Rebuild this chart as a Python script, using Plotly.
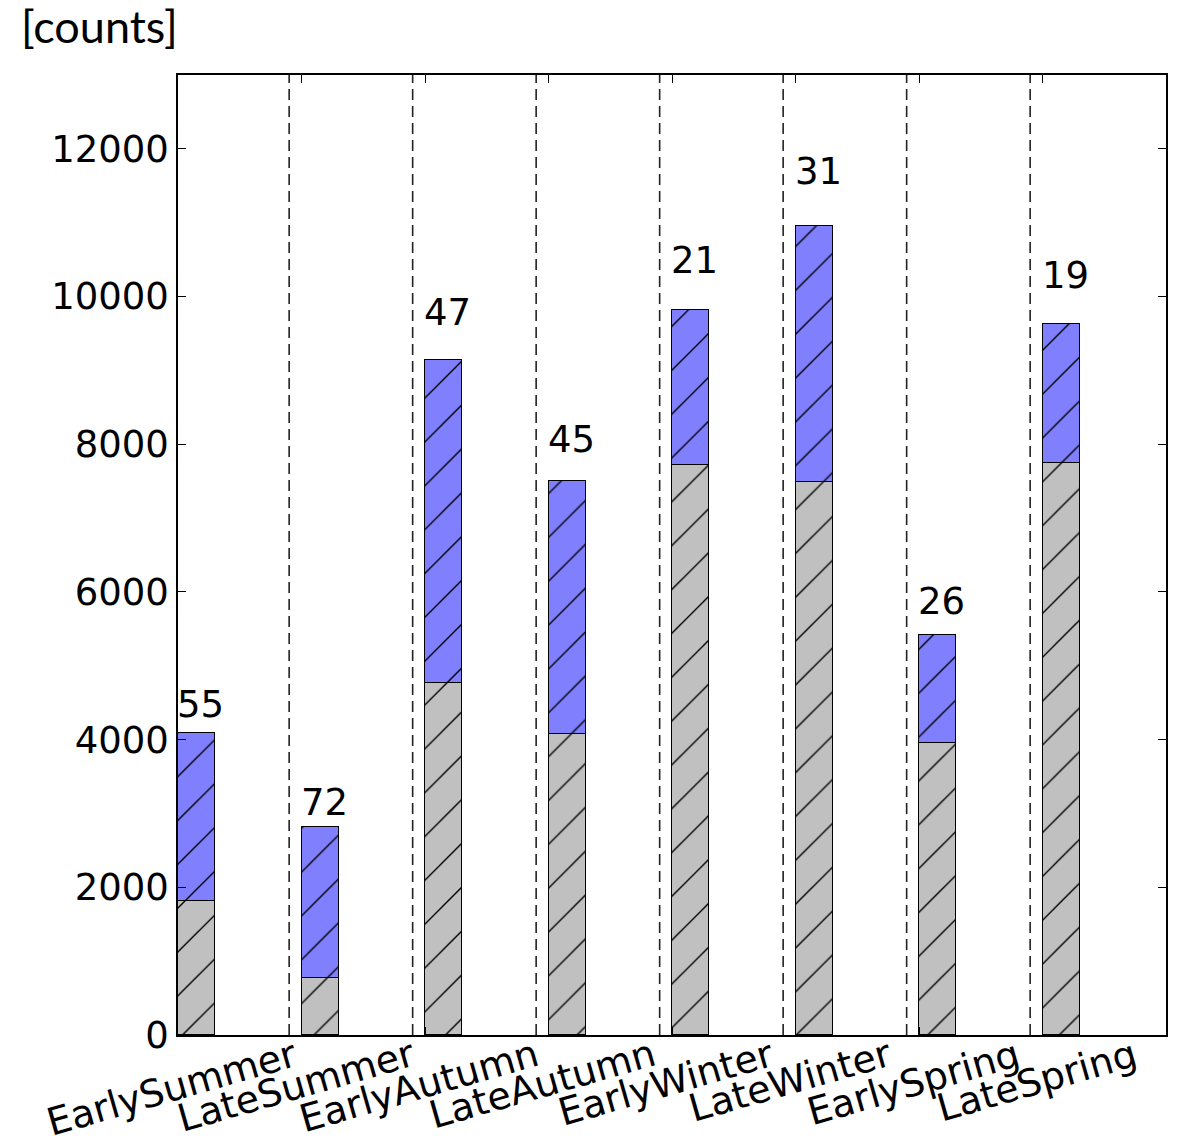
import plotly.graph_objects as go

# Seasonal counts: grey base segment plus blue stacked segment per period
categories = ["EarlySummer", "LateSummer", "EarlyAutumn", "LateAutumn",
              "EarlyWinter", "LateWinter", "EarlySpring", "LateSpring"]
base_counts = [1810, 770, 4765, 4080, 7720, 7495, 3960, 7750]
top_counts = [2275, 2050, 4375, 3420, 2100, 3465, 1460, 1875]
pct_labels = ["55", "72", "47", "45", "21", "31", "26", "19"]
y_ticks = [0, 2000, 4000, 6000, 8000, 10000, 12000]

positions = list(range(len(categories)))
totals = [b + t for b, t in zip(base_counts, top_counts)]

TICK_FONT = dict(family="DejaVu Sans", size=37, color="black")
CAT_FONT = dict(family="DejaVu Sans", size=38, color="black")
BAR_W = 0.3

fig = go.Figure()

fig.add_trace(go.Bar(
    x=positions, y=base_counts, width=BAR_W, offset=0,
    marker=dict(color="#c0c0c0", line=dict(color="black", width=1.2),
                pattern=dict(shape="/", fgcolor="black", bgcolor="#c0c0c0",
                             size=31, solidity=0.045, fillmode="replace")),
    showlegend=False, hoverinfo="skip",
))
fig.add_trace(go.Bar(
    x=positions, y=top_counts, width=BAR_W, offset=0,
    marker=dict(color="#8080ff", line=dict(color="black", width=1.2),
                pattern=dict(shape="/", fgcolor="black", bgcolor="#8080ff",
                             size=31, solidity=0.045, fillmode="replace")),
    showlegend=False, hoverinfo="skip",
))

# Dashed separators between periods
for p in positions[:-1]:
    fig.add_shape(type="line", xref="x", yref="y", x0=p + 0.9, x1=p + 0.9,
                  y0=0, y1=13000, layer="below",
                  line=dict(color="#222222", width=1.6, dash="11px,6px"))

annotations = []
# Percentage labels above each stack
for p, tot, lab in zip(positions, totals, pct_labels):
    annotations.append(dict(
        x=p, y=tot * 1.05, xref="x", yref="y", text=lab, showarrow=False,
        xanchor="left", yanchor="bottom", borderpad=0, xshift=-2, yshift=-9,
        font=TICK_FONT,
    ))
# Rotated category labels
for p, name in zip(positions, categories):
    annotations.append(dict(
        x=p, y=0, xref="x", yref="paper", text=name, showarrow=False,
        xanchor="center", yanchor="top", textangle=-16, borderpad=0,
        xshift=-6, yshift=5, font=CAT_FONT,
    ))
# Unit label above the plot area
annotations.append(dict(
    x=-0.161, y=1.0, xref="paper", yref="paper", text="[counts]",
    showarrow=False, xanchor="left", yanchor="bottom", yshift=20,
    font=dict(family="Lato", size=45, color="black"),
))

fig.update_layout(
    width=1179, height=1143,
    margin=dict(l=178, r=13, t=75, b=108),
    paper_bgcolor="white", plot_bgcolor="white",
    barmode="stack", bargap=0,
    annotations=annotations,
)

fig.update_xaxes(
    range=[0, 8], tickvals=positions, showticklabels=False,
    ticks="inside", ticklen=8, tickcolor="black", tickwidth=1,
    showline=True, linecolor="black", linewidth=1.5, mirror="allticks",
    showgrid=False, zeroline=False,
)
fig.update_yaxes(
    range=[0, 13000], tickvals=y_ticks, ticktext=[str(v) for v in y_ticks],
    ticks="inside", ticklen=8, tickcolor="black", tickwidth=1,
    showline=True, linecolor="black", linewidth=1.5, mirror="allticks",
    showgrid=False, zeroline=False, tickfont=TICK_FONT,
)

fig.write_html("out.html")
